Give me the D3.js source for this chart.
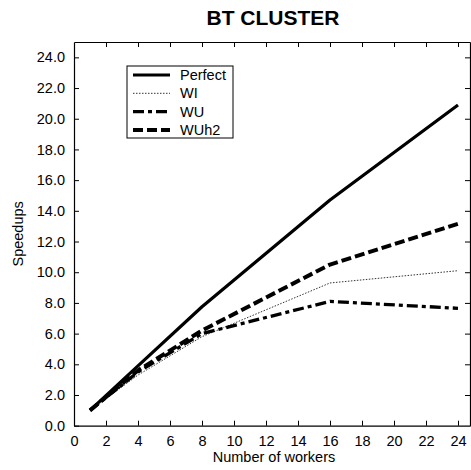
<!DOCTYPE html>
<html>
<head>
<meta charset="utf-8">
<script src="https://cdn.jsdelivr.net/npm/d3@7"></script>
<style>
  html, body { margin: 0; padding: 0; background: #fff; }
  svg { display: block; font-family: "Liberation Sans", Arial, sans-serif; }
</style>
</head>
<body>
<svg id="chart" width="471" height="470"></svg>
<script>
// Worker counts and measured speedups per scheduling variant
const workers = [1, 4, 8, 16, 24];
const perfect = [1, 3.9, 7.75, 14.7, 20.9];
const wi      = [1, 3.3, 5.8, 9.3, 10.1];
const wu      = [1, 3.5, 6.0, 8.1, 7.65];
const wuh2    = [1, 3.6, 6.2, 10.5, 13.15];

const seriesNames = ["Perfect", "WI", "WU", "WUh2"];
const xTicks = [0, 2, 4, 6, 8, 10, 12, 14, 16, 18, 20, 22, 24];
const yTicks = [0, 2, 4, 6, 8, 10, 12, 14, 16, 18, 20, 22, 24];

const svg = d3.select("#chart");

const plotL = 74, plotR = 470, plotT = 42, plotB = 425.7;
const x = d3.scaleLinear().domain([0, 24.75]).range([plotL, plotR]);
const y = d3.scaleLinear().domain([0, 25]).range([plotB, plotT]);

// Line styles per series
const styles = {
  "Perfect": { width: 3.2, dash: null, color: "#000" },
  "WI":      { width: 1,   dash: "1.5,1.5", color: "#333" },
  "WU":      { width: 3.3, dash: "11,4,4,4", color: "#000" },
  "WUh2":    { width: 4,   dash: "10,4", color: "#000" }
};
const values = { "Perfect": perfect, "WI": wi, "WU": wu, "WUh2": wuh2 };

// Title
svg.append("text")
  .attr("x", 273).attr("y", 25)
  .attr("text-anchor", "middle")
  .attr("font-size", 21).attr("font-weight", "bold")
  .text("BT CLUSTER");

// Frame with inward ticks on every side
const tick = 5;
const labelSize = 14.5;
const axisStyle = g => g.call(s => s.select(".domain").attr("stroke", "#000"))
  .call(s => s.selectAll(".tick line").attr("stroke", "#000"));

svg.append("g").attr("transform", `translate(0,${plotB})`)
  .call(d3.axisBottom(x).tickValues(xTicks).tickSizeInner(-tick).tickSizeOuter(0).tickPadding(10).tickFormat(d3.format("d")))
  .call(axisStyle)
  .call(g => g.selectAll("text").attr("font-size", labelSize).attr("fill", "#000"));

svg.append("g").attr("transform", `translate(0,${plotT})`)
  .call(d3.axisTop(x).tickValues(xTicks.slice(1)).tickSizeInner(-tick).tickSizeOuter(0).tickFormat(""))
  .call(axisStyle);

svg.append("g").attr("transform", `translate(${plotL},0)`)
  .call(d3.axisLeft(y).tickValues(yTicks).tickSizeInner(-tick).tickSizeOuter(0).tickPadding(9).tickFormat(d3.format(".1f")))
  .call(axisStyle)
  .call(g => g.selectAll("text").attr("font-size", labelSize).attr("fill", "#000"));

svg.append("g").attr("transform", `translate(${plotR},0)`)
  .call(d3.axisRight(y).tickValues(yTicks.slice(1)).tickSizeInner(-tick).tickSizeOuter(0).tickFormat(""))
  .call(axisStyle);

svg.selectAll(".domain").attr("stroke-width", 1.2);
svg.selectAll("text").attr("font-family", "Liberation Sans, Arial, sans-serif");

// Axis titles
svg.append("text")
  .attr("x", 274).attr("y", 462)
  .attr("text-anchor", "middle").attr("font-size", 14.5).attr("fill", "#000")
  .text("Number of workers");

svg.append("text")
  .attr("transform", `translate(23,${(plotT + plotB) / 2}) rotate(-90)`)
  .attr("text-anchor", "middle").attr("font-size", 14.5).attr("fill", "#000")
  .text("Speedups");

// Series lines
const line = d3.line().x((d, i) => x(workers[i])).y(d => y(d));
seriesNames.forEach(name => {
  const st = styles[name];
  svg.append("path")
    .datum(values[name])
    .attr("fill", "none")
    .attr("stroke", st.color)
    .attr("stroke-width", st.width)
    .attr("stroke-dasharray", st.dash)
    .attr("stroke-linejoin", "round")
    .attr("d", line);
});

// Legend
const legend = svg.append("g");
legend.append("rect")
  .attr("x", 127).attr("y", 66).attr("width", 106).attr("height", 72)
  .attr("fill", "#fff").attr("stroke", "#000").attr("stroke-width", 1);

seriesNames.forEach((name, i) => {
  const st = styles[name];
  const ly = 75 + i * 18.3;
  legend.append("line")
    .attr("x1", 133).attr("x2", 170).attr("y1", ly).attr("y2", ly)
    .attr("stroke", st.color).attr("stroke-width", st.width)
    .attr("stroke-dasharray", st.dash);
  legend.append("text")
    .attr("x", 180).attr("y", ly + 5)
    .attr("font-size", 14.5).attr("fill", "#000")
    .text(name);
});
</script>
</body>
</html>
